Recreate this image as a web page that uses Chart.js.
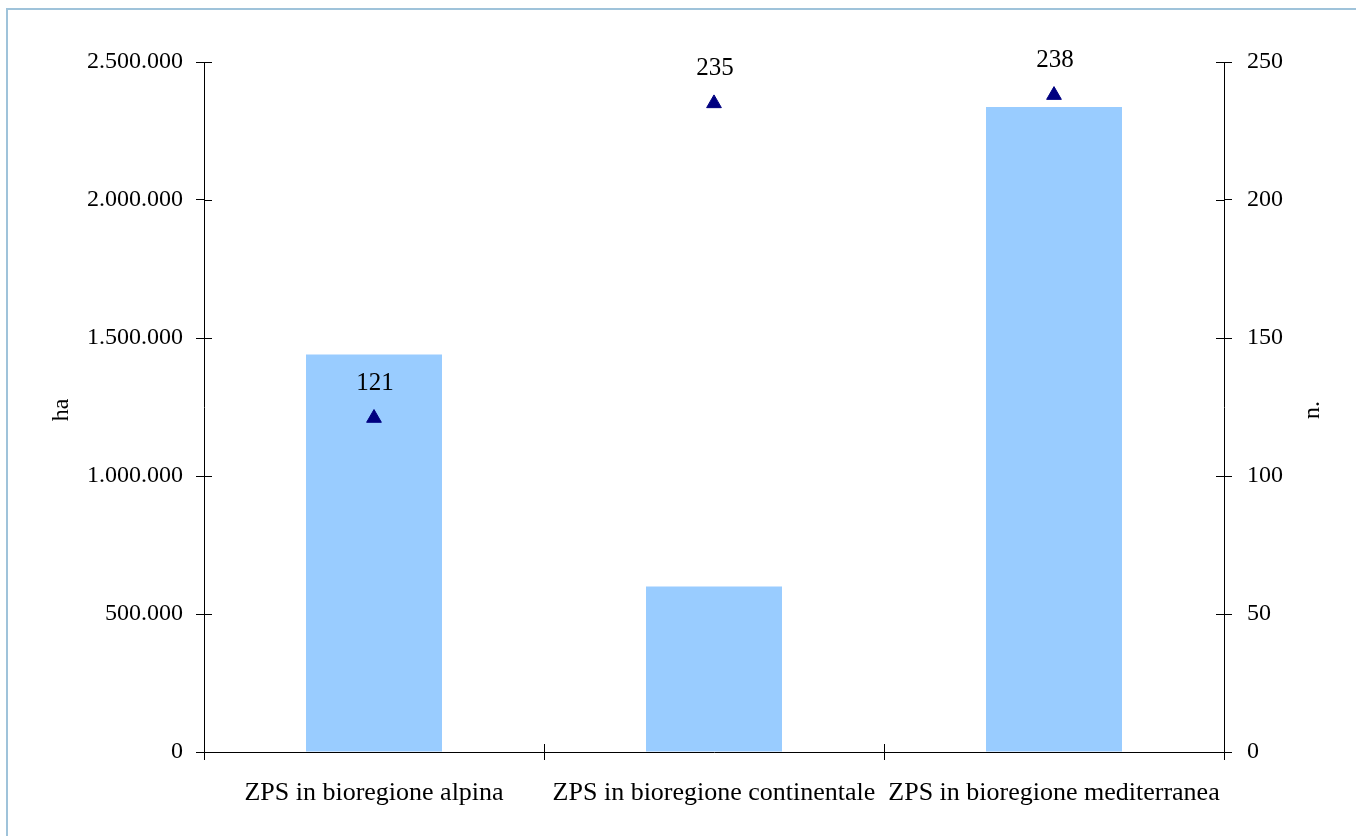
<!DOCTYPE html>
<html>
<head>
<meta charset="utf-8">
<title>ZPS per bioregione</title>
<script src="https://cdn.jsdelivr.net/npm/chart.js@4/dist/chart.umd.min.js"></script>
<style>
  html, body { margin: 0; padding: 0; background: #fff; }
  #wrap { position: relative; width: 1356px; height: 836px; overflow: hidden; }
  #frame {
    position: absolute; left: 6px; top: 8px; width: 1400px; height: 900px;
    border-left: 2px solid #9fc3da; border-top: 2px solid #9fc3da;
  }
  canvas { position: absolute; left: 0; top: 0; }
</style>
</head>
<body>
<div id="wrap">
  <div id="frame"></div>
  <canvas id="zpsChart" width="1356" height="836"></canvas>
</div>
<script>
const categories = ['ZPS in bioregione alpina', 'ZPS in bioregione continentale', 'ZPS in bioregione mediterranea'];
const areaHa = [1440000, 600000, 2337000];   // superficie (ha), asse sinistro
const siteCount = [121, 235, 238];           // numero di siti (n.), asse destro
const haTicks = [0, 500000, 1000000, 1500000, 2000000, 2500000];
const countTicks = [0, 50, 100, 150, 200, 250];

const SERIF = '"Liberation Serif", "Times New Roman", serif';
Chart.defaults.font.family = SERIF;
Chart.defaults.font.size = 24;
Chart.defaults.color = '#000';

const fmtIt = v => String(v).replace(/\B(?=(\d{3})+(?!\d))/g, '.');

// tick marks on the plot side of each axis (Excel style crossing ticks)
const innerTicks = {
  id: 'innerTicks',
  afterDraw(chart) {
    const { ctx, scales } = chart;
    const len = 8;
    ctx.save();
    ctx.strokeStyle = '#000';
    ctx.lineWidth = 1;
    ctx.beginPath();
    const y = scales.y, y2 = scales.y2, x = scales.x;
    y.ticks.forEach(t => {
      const p = Math.round(y.getPixelForValue(t.value)) + 0.5;
      ctx.moveTo(y.right, p); ctx.lineTo(y.right + len, p);
    });
    y2.ticks.forEach(t => {
      const p = Math.round(y2.getPixelForValue(t.value)) + 0.5;
      ctx.moveTo(y2.left, p); ctx.lineTo(y2.left - len, p);
    });
    for (let i = 0; i <= categories.length; i++) {
      const p = Math.round(x.getPixelForValue(i - 0.5)) + 0.5;
      ctx.moveTo(p, x.top); ctx.lineTo(p, x.top - len);
    }
    ctx.stroke();
    ctx.restore();
  }
};

// value labels above the triangles, plus both rotated axis titles
const labelsAndTitles = {
  id: 'labelsAndTitles',
  afterDatasetsDraw(chart) {
    const { ctx, chartArea } = chart;
    const meta = chart.getDatasetMeta(1);
    ctx.save();
    ctx.fillStyle = '#000';
    ctx.textAlign = 'center';
    ctx.textBaseline = 'middle';
    ctx.font = '25px ' + SERIF;
    meta.data.forEach((pt, i) => {
      ctx.fillText(String(siteCount[i]), pt.x + 1, pt.y - 35);
    });
    ctx.font = '24px ' + SERIF;
    const midY = (chartArea.top + chartArea.bottom) / 2 + 3;
    [['ha', 62], ['n.', 1313]].forEach(([txt, cx]) => {
      ctx.save();
      ctx.translate(cx, midY);
      ctx.rotate(-Math.PI / 2);
      ctx.fillText(txt, 0, 0);
      ctx.restore();
    });
    ctx.restore();
  }
};

new Chart(document.getElementById('zpsChart'), {
  data: {
    labels: categories,
    datasets: [
      {
        type: 'bar',
        label: 'ha',
        data: areaHa,
        yAxisID: 'y',
        backgroundColor: '#99ccff',
        borderWidth: 0,
        barPercentage: 0.4,
        categoryPercentage: 1,
        order: 2
      },
      {
        type: 'line',
        label: 'n.',
        data: siteCount,
        yAxisID: 'y2',
        showLine: false,
        pointStyle: 'triangle',
        pointRadius: 8.5,
        pointBackgroundColor: '#000080',
        pointBorderColor: '#000080',
        pointBorderWidth: 1,
        order: 1
      }
    ]
  },
  options: {
    responsive: false,
    animation: false,
    layout: { padding: { top: 62, left: 0, right: 0, bottom: 0 } },
    plugins: {
      legend: { display: false },
      tooltip: { enabled: false }
    },
    scales: {
      x: {
        offset: true,
        grid: { offset: true, drawOnChartArea: false, tickLength: 8, color: '#000' },
        border: { color: '#000', width: 1 },
        ticks: { padding: 18, maxRotation: 0, autoSkip: false, font: { size: 26 } },
        afterFit(s) { s.height = 84; }
      },
      y: {
        position: 'left',
        min: haTicks[0],
        max: haTicks[haTicks.length - 1],
        afterBuildTicks(s) { s.ticks = haTicks.map(v => ({ value: v })); },
        grid: { drawOnChartArea: false, tickLength: 8, color: '#000' },
        border: { color: '#000', width: 1 },
        ticks: { padding: 13, callback: v => fmtIt(v) },
        afterFit(s) { s.width = 204; }
      },
      y2: {
        position: 'right',
        min: countTicks[0],
        max: countTicks[countTicks.length - 1],
        afterBuildTicks(s) { s.ticks = countTicks.map(v => ({ value: v })); },
        grid: { drawOnChartArea: false, tickLength: 8, color: '#000' },
        border: { color: '#000', width: 1 },
        ticks: { padding: 15 },
        afterFit(s) { s.width = 132; }
      }
    }
  },
  plugins: [innerTicks, labelsAndTitles]
});
</script>
</body>
</html>
